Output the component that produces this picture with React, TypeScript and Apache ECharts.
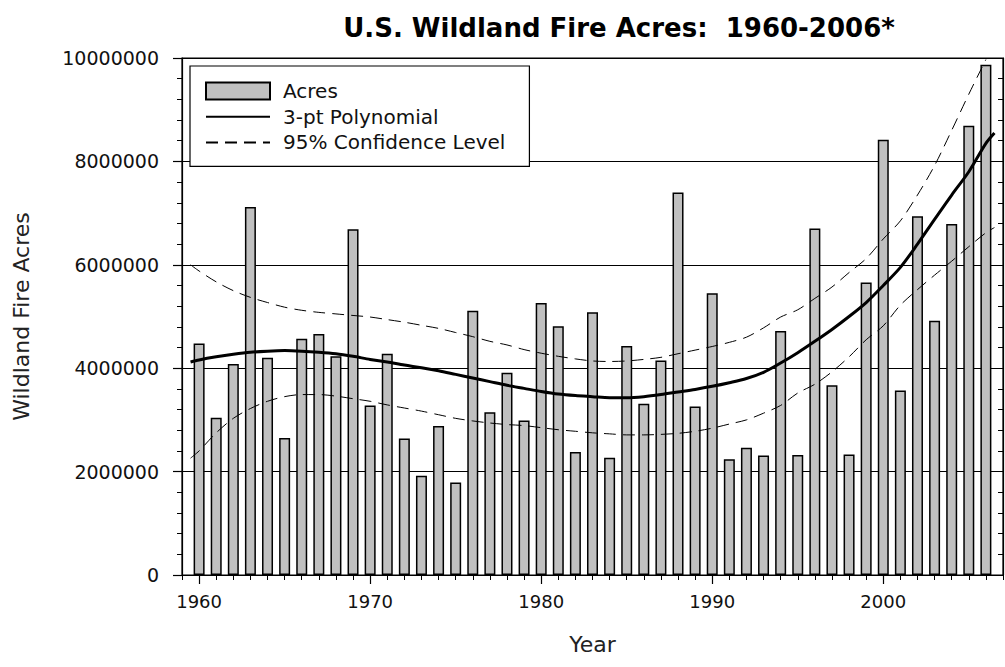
import React, { useEffect, useRef } from "react";
import * as echarts from "echarts";

const years = [
  1960, 1961, 1962, 1963, 1964, 1965, 1966, 1967, 1968, 1969,
  1970, 1971, 1972, 1973, 1974, 1975, 1976, 1977, 1978, 1979,
  1980, 1981, 1982, 1983, 1984, 1985, 1986, 1987, 1988, 1989,
  1990, 1991, 1992, 1993, 1994, 1995, 1996, 1997, 1998, 1999,
  2000, 2001, 2002, 2003, 2004, 2005, 2006,
];

// acres, in millions
const acres = [
  4.48, 3.04, 4.08, 7.12, 4.2, 2.65, 4.57, 4.66, 4.23, 6.69,
  3.28, 4.28, 2.64, 1.92, 2.88, 1.79, 5.11, 3.15, 3.91, 2.99,
  5.26, 4.81, 2.38, 5.08, 2.27, 4.43, 3.31, 4.15, 7.4, 3.26,
  5.45, 2.24, 2.46, 2.31, 4.72, 2.32, 6.7, 3.67, 2.33, 5.66,
  8.42, 3.57, 6.94, 4.92, 6.79, 8.69, 9.87,
];

const curveYears = [
  1959.5, 1960, 1961, 1962, 1963, 1964, 1965, 1966, 1967, 1968, 1969,
  1970, 1971, 1972, 1973, 1974, 1975, 1976, 1977, 1978, 1979,
  1980, 1981, 1982, 1983, 1984, 1985, 1986, 1987, 1988, 1989,
  1990, 1991, 1992, 1993, 1994, 1995, 1996, 1997, 1998, 1999,
  2000, 2001, 2002, 2003, 2004, 2005, 2006, 2006.5,
];

const polynomial = [
  4.12, 4.16, 4.22, 4.27, 4.31, 4.33, 4.34, 4.33, 4.31, 4.28, 4.23,
  4.17, 4.12, 4.06, 4.01, 3.95, 3.88, 3.81, 3.74, 3.67, 3.61,
  3.55, 3.5, 3.47, 3.45, 3.43, 3.43, 3.45, 3.49, 3.54, 3.59,
  3.65, 3.72, 3.8, 3.92, 4.1, 4.3, 4.52, 4.75, 5.0, 5.27,
  5.6, 5.95, 6.4, 6.88, 7.35, 7.8, 8.35, 8.55,
];

const upperConf = [
  6.0, 5.88, 5.67, 5.5, 5.37, 5.27, 5.18, 5.12, 5.08, 5.05, 5.02,
  4.99, 4.94, 4.89, 4.83, 4.77, 4.69, 4.61, 4.52, 4.45, 4.36,
  4.29, 4.23, 4.18, 4.14, 4.13, 4.14, 4.17, 4.21, 4.28, 4.35,
  4.42, 4.5, 4.6, 4.78, 4.99, 5.13, 5.35, 5.57, 5.85, 6.12,
  6.5, 6.85, 7.35, 7.92, 8.6, 9.3, 9.97, null,
];

const lowerConf = [
  2.26, 2.4, 2.75, 3.03, 3.22, 3.36, 3.45, 3.49, 3.49, 3.46, 3.41,
  3.36, 3.29, 3.23, 3.17, 3.1, 3.03, 2.98, 2.94, 2.91, 2.89,
  2.85, 2.81, 2.78, 2.75, 2.73, 2.71, 2.71, 2.72, 2.74, 2.78,
  2.84, 2.92, 3.0, 3.13, 3.28, 3.52, 3.69, 3.93, 4.22, 4.55,
  4.82, 5.22, 5.52, 5.8, 6.07, 6.35, 6.62, 6.72,
];

const decadeTicks = [1960, 1970, 1980, 1990, 2000];

const FONT = "DejaVu Sans";
const M = 1000000;

function pairs(xs: number[], ys: (number | null)[]) {
  const out: any[] = [];
  xs.forEach((x, i) => {
    const y = ys[i];
    if (y !== null && y !== undefined) out.push([x, y * M]);
  });
  return out;
}

export default function App() {
  const ref = useRef<HTMLDivElement>(null);

  useEffect(() => {
    document.body.style.margin = "0";
    if (!ref.current) return;
    const chart = echarts.init(ref.current, null, { renderer: "svg" });

    const dashed = [12, 7];
    const hiddenSymbol = {
      color: "rgba(0,0,0,0)",
      borderColor: "rgba(0,0,0,0)",
      borderWidth: 0,
    };

    chart.setOption({
      animation: false,
      backgroundColor: "#fff",
      title: {
        text: "U.S. Wildland Fire Acres:  1960-2006*",
        left: 614,
        top: 10,
        textAlign: "center",
        textStyle: {
          fontFamily: FONT,
          fontWeight: "bold",
          fontSize: 26,
          color: "#000",
        },
      },
      legend: {
        data: [
          { name: "Acres", icon: "rect" },
          { name: "3-pt Polynomial", itemStyle: hiddenSymbol },
          { name: "95% Confidence Level", itemStyle: hiddenSymbol },
        ],
        orient: "vertical",
        left: 190,
        top: 66,
        padding: [15, 24, 14, 15],
        itemWidth: 64,
        itemHeight: 17,
        itemGap: 5.7,
        borderColor: "#000",
        borderWidth: 1.2,
        backgroundColor: "#fff",
        selectedMode: false,
        textStyle: {
          fontFamily: FONT,
          fontSize: 20,
          color: "#111",
          lineHeight: 18,
          padding: [0, 0, 0, 8],
        },
      },
      grid: {
        left: 182,
        right: 2,
        top: 58,
        bottom: 92,
        show: true,
        borderColor: "#000",
        borderWidth: 1.2,
        backgroundColor: "transparent",
      },
      xAxis: [
        {
          type: "value",
          min: 1959,
          max: 2007,
          interval: 1,
          position: "bottom",
          axisLine: { show: true, lineStyle: { color: "#000", width: 1.2 } },
          axisTick: { show: true, length: 5, lineStyle: { color: "#000", width: 1 } },
          axisLabel: { show: false },
          splitLine: { show: false },
        },
        {
          type: "value",
          min: 1959,
          max: 2007,
          position: "bottom",
          axisLine: { show: false },
          axisTick: {
            show: true,
            length: 9,
            customValues: decadeTicks,
            lineStyle: { color: "#000", width: 1.2 },
          },
          axisLabel: {
            show: true,
            customValues: decadeTicks,
            formatter: (v: number) => String(v),
            fontFamily: FONT,
            fontSize: 18,
            color: "#111",
            margin: 17,
          },
          splitLine: { show: false },
          name: "Year",
          nameLocation: "middle",
          nameGap: 58,
          nameTextStyle: { fontFamily: FONT, fontSize: 22, color: "#222" },
        },
      ],
      yAxis: [
        {
          type: "value",
          min: 0,
          max: 10 * M,
          interval: 2 * M,
          position: "left",
          axisLine: { show: true, lineStyle: { color: "#000", width: 1.2 } },
          axisTick: { show: true, length: 9, lineStyle: { color: "#000", width: 1.2 } },
          minorTick: { show: true, splitNumber: 5, length: 5, lineStyle: { color: "#000", width: 1 } },
          axisLabel: {
            formatter: (v: number) => String(v),
            fontFamily: FONT,
            fontSize: 19,
            color: "#111",
            margin: 23,
          },
          splitLine: { show: true, lineStyle: { color: "#000", width: 1 } },
          name: "Wildland Fire Acres",
          nameLocation: "middle",
          nameGap: 150,
          nameTextStyle: { fontFamily: FONT, fontSize: 22, color: "#222" },
        },
        {
          type: "value",
          min: 0,
          max: 10 * M,
          interval: 2 * M,
          position: "right",
          axisLine: { show: true, lineStyle: { color: "#000", width: 1.2 } },
          axisTick: { show: true, inside: true, length: 5, lineStyle: { color: "#000", width: 1 } },
          minorTick: { show: true, splitNumber: 5, length: 5, lineStyle: { color: "#000", width: 1 } },
          axisLabel: { show: false },
          splitLine: { show: false },
        },
      ],
      series: [
        {
          name: "Acres",
          type: "bar",
          xAxisIndex: 0,
          yAxisIndex: 0,
          barWidth: 11,
          data: pairs(years, acres),
          itemStyle: { color: "#c0c0c0", borderColor: "#000", borderWidth: 1.5 },
          z: 2,
        },
        {
          name: "3-pt Polynomial",
          type: "line",
          xAxisIndex: 0,
          yAxisIndex: 0,
          data: pairs(curveYears, polynomial),
          symbol: "none",
          smooth: 0.3,
          lineStyle: { color: "#000", width: 3 },
          itemStyle: { color: "#000" },
          z: 3,
        },
        {
          name: "95% Confidence Level",
          type: "line",
          xAxisIndex: 0,
          yAxisIndex: 0,
          data: pairs(curveYears, upperConf),
          symbol: "none",
          smooth: 0.3,
          lineStyle: { color: "#000", width: 1, type: dashed },
          itemStyle: { color: "#000" },
          z: 3,
        },
        {
          name: "95% Confidence Level",
          type: "line",
          xAxisIndex: 0,
          yAxisIndex: 0,
          data: pairs(curveYears, lowerConf),
          symbol: "none",
          smooth: 0.3,
          lineStyle: { color: "#000", width: 1, type: dashed },
          itemStyle: { color: "#000" },
          z: 3,
        },
      ],
    });

    return () => chart.dispose();
  }, []);

  return <div ref={ref} style={{ width: 1005, height: 667 }} />;
}
